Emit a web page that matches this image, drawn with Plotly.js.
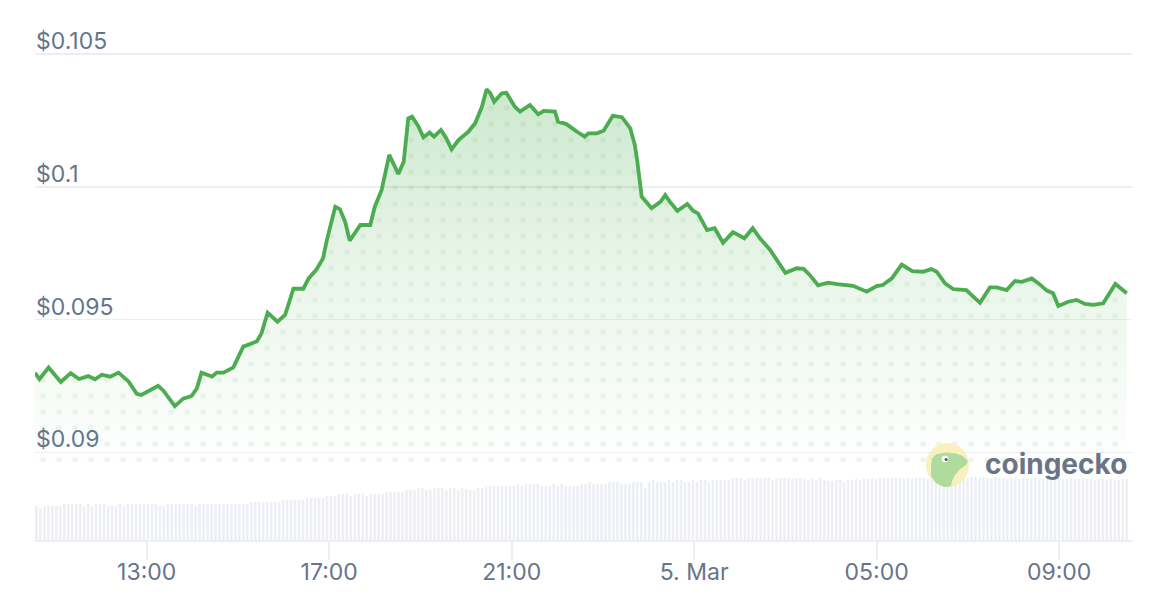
<!DOCTYPE html>
<html><head><meta charset="utf-8">
<script src="https://cdn.plot.ly/plotly-3.0.1.min.js"></script>
<style>html,body{margin:0;padding:0;background:#fff;} #chart{width:1164px;height:598px;}</style>
</head><body><div id="chart"></div>
<script>
const times = [
'2025-03-04 10:33','2025-03-04 10:39','2025-03-04 10:51','2025-03-04 11:07','2025-03-04 11:20','2025-03-04 11:31','2025-03-04 11:43','2025-03-04 11:52','2025-03-04 12:01','2025-03-04 12:12',
'2025-03-04 12:23','2025-03-04 12:36','2025-03-04 12:47','2025-03-04 12:53','2025-03-04 13:15','2025-03-04 13:22','2025-03-04 13:37','2025-03-04 13:48','2025-03-04 13:59','2025-03-04 14:06',
'2025-03-04 14:12','2025-03-04 14:26','2025-03-04 14:32','2025-03-04 14:41','2025-03-04 14:54','2025-03-04 15:07','2025-03-04 15:25','2025-03-04 15:31','2025-03-04 15:39','2025-03-04 15:52',
'2025-03-04 16:02','2025-03-04 16:13','2025-03-04 16:26','2025-03-04 16:33','2025-03-04 16:43','2025-03-04 16:52','2025-03-04 16:57','2025-03-04 17:08','2025-03-04 17:14','2025-03-04 17:21',
'2025-03-04 17:27','2025-03-04 17:41','2025-03-04 17:54','2025-03-04 18:00','2025-03-04 18:09','2025-03-04 18:19','2025-03-04 18:31','2025-03-04 18:38','2025-03-04 18:44','2025-03-04 18:49',
'2025-03-04 18:57','2025-03-04 19:04','2025-03-04 19:12','2025-03-04 19:18','2025-03-04 19:27','2025-03-04 19:34','2025-03-04 19:41','2025-03-04 19:50','2025-03-04 20:03','2025-03-04 20:12',
'2025-03-04 20:21','2025-03-04 20:27','2025-03-04 20:32','2025-03-04 20:37','2025-03-04 20:47','2025-03-04 20:53','2025-03-04 21:04','2025-03-04 21:11','2025-03-04 21:24','2025-03-04 21:35',
'2025-03-04 21:42','2025-03-04 21:57','2025-03-04 22:01','2025-03-04 22:12','2025-03-04 22:26','2025-03-04 22:36','2025-03-04 22:41','2025-03-04 22:52','2025-03-04 23:01','2025-03-04 23:13',
'2025-03-04 23:25','2025-03-04 23:36','2025-03-04 23:42','2025-03-04 23:45','2025-03-04 23:51','2025-03-05 00:04','2025-03-05 00:16','2025-03-05 00:22','2025-03-05 00:28','2025-03-05 00:38',
'2025-03-05 00:51','2025-03-05 00:59','2025-03-05 01:05','2025-03-05 01:17','2025-03-05 01:27','2025-03-05 01:38','2025-03-05 01:51','2025-03-05 02:06','2025-03-05 02:17','2025-03-05 02:27',
'2025-03-05 02:40','2025-03-05 03:00','2025-03-05 03:15','2025-03-05 03:24','2025-03-05 03:32','2025-03-05 03:43','2025-03-05 03:56','2025-03-05 04:08','2025-03-05 04:29','2025-03-05 04:47',
'2025-03-05 05:00','2025-03-05 05:08','2025-03-05 05:20','2025-03-05 05:33','2025-03-05 05:47','2025-03-05 06:01','2025-03-05 06:12','2025-03-05 06:19','2025-03-05 06:30','2025-03-05 06:41',
'2025-03-05 06:58','2025-03-05 07:16','2025-03-05 07:29','2025-03-05 07:38','2025-03-05 07:51','2025-03-05 08:02','2025-03-05 08:11','2025-03-05 08:24','2025-03-05 08:33','2025-03-05 08:44',
'2025-03-05 08:52','2025-03-05 08:59','2025-03-05 09:12','2025-03-05 09:23','2025-03-05 09:34','2025-03-05 09:45','2025-03-05 09:58','2025-03-05 10:14','2025-03-05 10:29'
];
const prices = [
0.09299,0.09276,0.09319,0.09265,0.09298,0.09276,0.09287,0.09275,0.09292,0.09285,
0.09300,0.09267,0.09220,0.09216,0.09250,0.09232,0.09174,0.09202,0.09212,0.09241,
0.09300,0.09285,0.09300,0.09300,0.09320,0.09398,0.09418,0.09448,0.09526,0.09492,
0.09517,0.09616,0.09616,0.09655,0.09687,0.09731,0.09800,0.09925,0.09916,0.09868,
0.09797,0.09856,0.09856,0.09925,0.09988,0.10120,0.10048,0.10094,0.10258,0.10264,
0.10229,0.10186,0.10204,0.10189,0.10214,0.10183,0.10141,0.10176,0.10207,0.10239,
0.10302,0.10367,0.10352,0.10320,0.10352,0.10354,0.10302,0.10283,0.10308,0.10273,
0.10286,0.10283,0.10245,0.10236,0.10207,0.10189,0.10201,0.10201,0.10211,0.10267,
0.10262,0.10220,0.10157,0.10101,0.09963,0.09919,0.09944,0.09969,0.09944,0.09909,
0.09935,0.09909,0.09900,0.09837,0.09844,0.09789,0.09829,0.09806,0.09844,0.09804,
0.09762,0.09676,0.09693,0.09691,0.09668,0.09629,0.09639,0.09633,0.09627,0.09605,
0.09626,0.09630,0.09655,0.09707,0.09682,0.09680,0.09690,0.09680,0.09636,0.09614,
0.09611,0.09563,0.09621,0.09621,0.09611,0.09645,0.09642,0.09655,0.09636,0.09609,
0.09599,0.09551,0.09567,0.09574,0.09559,0.09555,0.09561,0.09634,0.09599
];
const volumeStart = '2025-03-04 10:35:00';
const volumeStepMs = 314000;
const volumes = [
34,32,34,34,34,34,34,36,36,36, 36,36,34,36,34,36,36,36,34,34,
34,36,34,36,36,36,36,36,36,36, 36,34,34,36,36,36,36,36,36,36,
34,36,36,36,36,36,36,36,36,36, 36,36,36,36,38,38,38,38,38,38,
38,38,40,40,40,40,40,40,42,42, 42,42,42,44,44,44,46,46,46,44,
46,46,46,44,46,46,46,46,48,48, 48,48,48,50,
50,50,52,52,50,50,52,52,52,50, 52,52,50,52,51,50,50,52,52,54,
54,54,54,54,54,54,54,56,54,56, 56,56,56,54,54,54,56,54,56,54,
54,54,54,56,56,58,56,56,56,56, 58,58,58,56,56,56,58,58,58,52,
58,60,58,58,58,60,58,60,60,58, 58,60,58,60,60,58,60,60,60,60,
60,62,62,62,60,62,62,62,62,62,62,60,62,62,
62,62,61,62,62,61,60,61,60,62,60,59,
59,60,60,58,60,60,61,60,61,61,62,61,62,62,61,
62,62,62,61,62,61,62,62,62,61,62,62,61,62,62,
62,62,63,63,62,63,63,62,63,62,62,63,62,62,61,
62,62,61,62,62,61,62,61,61,62,62,61,62,61,61,
62,61,61,62,61,61,60,61,61,60,61,60,60,61,61
];
const priceTicks = [0.09, 0.095, 0.1, 0.105];
const priceTickLabels = ['$0.09', '$0.095', '$0.1', '$0.105'];
const timeTicks = ['2025-03-04 13:00','2025-03-04 17:00','2025-03-04 21:00','2025-03-05 01:00','2025-03-05 05:00','2025-03-05 09:00'];
const timeTickLabels = ['13:00','17:00','21:00','5. Mar','05:00','09:00'];

const GREEN = 'rgb(76,172,80)';
const LABEL = '#67748b';
const GRID = '#eceef4';
const FONT = 'Inter, "Noto Sans", sans-serif';

const traces = [
  {type: 'bar', x0: volumeStart, dx: volumeStepMs, y: volumes, xaxis: 'x', yaxis: 'y2',
   marker: {color: '#edeff5', line: {width: 0}}, hoverinfo: 'skip'},
  {x: times, y: prices, type: 'scatter', mode: 'lines', fill: 'tozeroy', line: {width: 0, color: 'rgba(0,0,0,0)'},
   fillgradient: {type: 'vertical', start: 0.0900, stop: 0.1037,
     colorscale: [[0, 'rgba(76,175,80,0.01)'], [0.5, 'rgba(76,175,80,0.12)'], [1, 'rgba(76,175,80,0.28)']]},
   hoverinfo: 'skip'},
  {x: times, y: prices, type: 'scatter', mode: 'lines', fill: 'tozeroy', line: {width: 0, color: 'rgba(0,0,0,0)'},
   fillcolor: 'rgba(0,0,0,0)',
   fillpattern: {shape: '.', size: 16, solidity: 0.1, fgcolor: 'rgba(76,150,80,0.09)', bgcolor: 'rgba(0,0,0,0)'},
   hoverinfo: 'skip'},
  {x: times, y: prices, type: 'scatter', mode: 'lines', line: {width: 3.8, color: GREEN}, hoverinfo: 'skip'}
];

const PX = x => (x - 35) / 1097;
const PY = y => (540 - y) / 520;
const pt = (x, y) => PX(x).toFixed(5) + ',' + PY(y).toFixed(5);
const geckoPts = [[931,466],[932,458],[937,454],[946,452.5],[956,453.5],[963,456],[968,461],[966,465],[960,469],[955,475],[952,481],[951,486.5],[944,487],[936,483],[931,476]];
const geckoPath = 'M' + geckoPts.map(p => pt(p[0], p[1])).join(' L') + ' Z';

const layout = {
  width: 1164, height: 598,
  margin: {l: 35, r: 32, t: 20, b: 58},
  paper_bgcolor: '#ffffff', plot_bgcolor: 'rgba(0,0,0,0)',
  showlegend: false, bargap: 0.35,
  font: {family: FONT, color: LABEL},
  xaxis: {type: 'date', anchor: 'y2', range: ['2025-03-04 10:33:05', '2025-03-05 10:35:53'],
    tickmode: 'array', tickvals: timeTicks, ticktext: timeTickLabels,
    ticks: 'outside', ticklen: 18, tickwidth: 2, tickcolor: GRID, ticklabelstandoff: -8,
    showline: true, linecolor: GRID, linewidth: 2, showgrid: false, zeroline: false,
    tickfont: {family: FONT, size: 23, color: LABEL}},
  yaxis: {domain: [0.15, 1], range: [0.089635, 0.10628],
    tickmode: 'array', tickvals: priceTicks, ticktext: priceTickLabels,
    ticklabelposition: 'inside', ticklabelshift: -13, ticklabelstandoff: -2, ticks: '',
    showgrid: true, gridcolor: GRID, gridwidth: 1.5, zeroline: false, showline: false,
    tickfont: {family: FONT, size: 23, color: LABEL}},
  yaxis2: {domain: [0, 0.2], range: [0, 104], visible: false, fixedrange: true},
  shapes: [
    {type: 'circle', xref: 'paper', yref: 'paper', x0: PX(926), x1: PX(969), y0: PY(487), y1: PY(443),
     fillcolor: '#f8f1bf', line: {width: 0}, layer: 'above'},
    {type: 'path', xref: 'paper', yref: 'paper', path: geckoPath, fillcolor: '#afdb9c', line: {width: 0}, layer: 'above'},
    {type: 'circle', xref: 'paper', yref: 'paper', x0: PX(941.7), x1: PX(948.3), y0: PY(462.3), y1: PY(455.7),
     fillcolor: '#ffffff', line: {width: 0}, layer: 'above'},
    {type: 'circle', xref: 'paper', yref: 'paper', x0: PX(944.6), x1: PX(947.6), y0: PY(461), y1: PY(458),
     fillcolor: '#4b5263', line: {width: 0}, layer: 'above'}
  ],
  annotations: [
    {xref: 'paper', yref: 'paper', x: PX(983), y: PY(464), xanchor: 'left', yanchor: 'middle', showarrow: false,
     text: 'coingecko', font: {family: FONT, size: 28, color: '#6a7486', weight: 700}}
  ]
};

Plotly.newPlot('chart', traces, layout, {staticPlot: true, displayModeBar: false});
</script>
</body></html>
